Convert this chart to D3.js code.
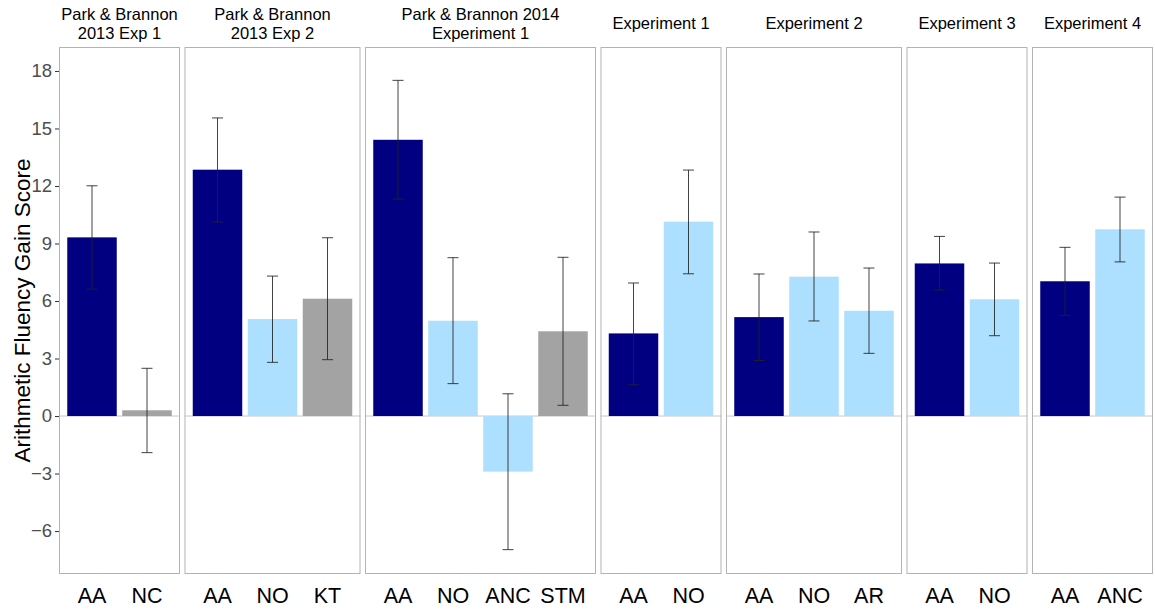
<!DOCTYPE html>
<html><head><meta charset="utf-8">
<script src="https://cdn.jsdelivr.net/npm/d3@7"></script>
<style>body{margin:0;background:#fff}svg{display:block;font-family:"Liberation Sans",Arial,sans-serif}</style>
</head><body>
<svg id="chart" width="1155" height="612"></svg>
<script>
const panelTitles = [
  ["Park & Brannon", "2013 Exp 1"],
  ["Park & Brannon", "2013 Exp 2"],
  ["Park & Brannon 2014", "Experiment 1"],
  ["Experiment 1"],
  ["Experiment 2"],
  ["Experiment 3"],
  ["Experiment 4"]
];
const panelCategories = [
  ["AA", "NC"],
  ["AA", "NO", "KT"],
  ["AA", "NO", "ANC", "STM"],
  ["AA", "NO"],
  ["AA", "NO", "AR"],
  ["AA", "NO"],
  ["AA", "ANC"]
];
const means = [
  [9.32, 0.30],
  [12.85, 5.06, 6.12],
  [14.41, 4.97, -2.90, 4.42],
  [4.31, 10.14],
  [5.16, 7.27, 5.49],
  [7.96, 6.09],
  [7.03, 9.74]
];
const lowers = [
  [6.62, -1.91],
  [10.12, 2.80, 2.94],
  [11.32, 1.69, -6.97, 0.56],
  [1.63, 7.42],
  [2.90, 4.96, 3.27],
  [6.57, 4.19],
  [5.25, 8.04]
];
const uppers = [
  [12.01, 2.49],
  [15.55, 7.30, 9.30],
  [17.51, 8.26, 1.16, 8.28],
  [6.94, 12.83],
  [7.41, 9.60, 7.72],
  [9.37, 7.98],
  [8.80, 11.42]
];
const yTicks = [-6, -3, 0, 3, 6, 9, 12, 15, 18];
const yLabel = "Arithmetic Fluency Gain Score";
const colorOf = {AA: "#000080", NC: "#a3a3a3", KT: "#a3a3a3", STM: "#a3a3a3", NO: "#addfff", ANC: "#addfff", AR: "#addfff"};

(function () {
const svg = d3.select("#chart");
const plotTop = 47, plotBottom = 574, plotLeft = 59, gap = 4.5, unit = 55, pad = 5.5;
const y = d3.scaleLinear().domain([-8.24, 19.25]).range([plotBottom, plotTop]);

const yAxis = svg.append("g").attr("transform", `translate(${plotLeft},0)`)
  .call(d3.axisLeft(y).tickValues(yTicks).tickSize(4).tickPadding(3).tickFormat(d => d < 0 ? "\u2212" + Math.abs(d) : d));
yAxis.select(".domain").remove();
yAxis.selectAll("line").attr("stroke", "#333");
yAxis.selectAll("text").attr("font-size", 18.5).attr("fill", "#4d4d4d").attr("font-family", '"Liberation Sans",Arial,sans-serif');

svg.append("text").attr("transform", `translate(30,${(plotTop + plotBottom) / 2}) rotate(-90)`)
  .attr("text-anchor", "middle").attr("font-size", 22.5).attr("fill", "#000").text(yLabel);

let x0 = plotLeft;
panelCategories.forEach((cats, i) => {
  const w = unit * cats.length + 2 * pad;
  const x1 = x0 + w;
  const x = d3.scaleBand().domain(cats).range([x0, x1]).paddingInner(0.1).paddingOuter(0.15);
  const g = svg.append("g");
  g.append("line").attr("x1", x0).attr("x2", x1).attr("y1", y(0)).attr("y2", y(0))
    .attr("stroke", "#c8c8c8").attr("stroke-width", 1);
  cats.forEach((c, j) => {
    const v = means[i][j];
    g.append("rect").attr("x", x(c)).attr("width", x.bandwidth())
      .attr("y", y(Math.max(0, v))).attr("height", Math.abs(y(v) - y(0)))
      .attr("fill", colorOf[c]);
  });
  cats.forEach((c, j) => {
    const cx = x(c) + x.bandwidth() / 2;
    const lo = y(lowers[i][j]), hi = y(uppers[i][j]);
    const eg = g.append("g").attr("stroke", "#222").attr("stroke-width", 1).attr("stroke-opacity", 0.85);
    eg.append("line").attr("x1", cx).attr("x2", cx).attr("y1", lo).attr("y2", hi);
    eg.append("line").attr("x1", cx - 5.5).attr("x2", cx + 5.5).attr("y1", lo).attr("y2", lo);
    eg.append("line").attr("x1", cx - 5.5).attr("x2", cx + 5.5).attr("y1", hi).attr("y2", hi);
  });
  g.append("rect").attr("x", x0 + 0.5).attr("y", plotTop + 0.5).attr("width", w - 1).attr("height", plotBottom - plotTop - 1)
    .attr("fill", "none").attr("stroke", "#b3b3b3").attr("stroke-width", 1);
  const xa = svg.append("g").attr("transform", `translate(0,${plotBottom})`)
    .call(d3.axisBottom(x).tickSize(0).tickPadding(14));
  xa.select(".domain").remove();
  xa.selectAll("text").attr("font-size", 21.5).attr("fill", "#000")
    .attr("font-family", '"Liberation Sans",Arial,sans-serif');
  const lines = panelTitles[i];
  const cxp = (x0 + x1) / 2;
  const t = svg.append("text").attr("text-anchor", "middle").attr("font-size", 16.5).attr("fill", "#000");
  if (lines.length === 2) {
    t.append("tspan").attr("x", cxp).attr("y", 19.5).text(lines[0]);
    t.append("tspan").attr("x", cxp).attr("y", 39).text(lines[1]);
  } else {
    t.append("tspan").attr("x", cxp).attr("y", 29).text(lines[0]);
  }
  x0 = x1 + gap;
});
})();
</script>
</body></html>
